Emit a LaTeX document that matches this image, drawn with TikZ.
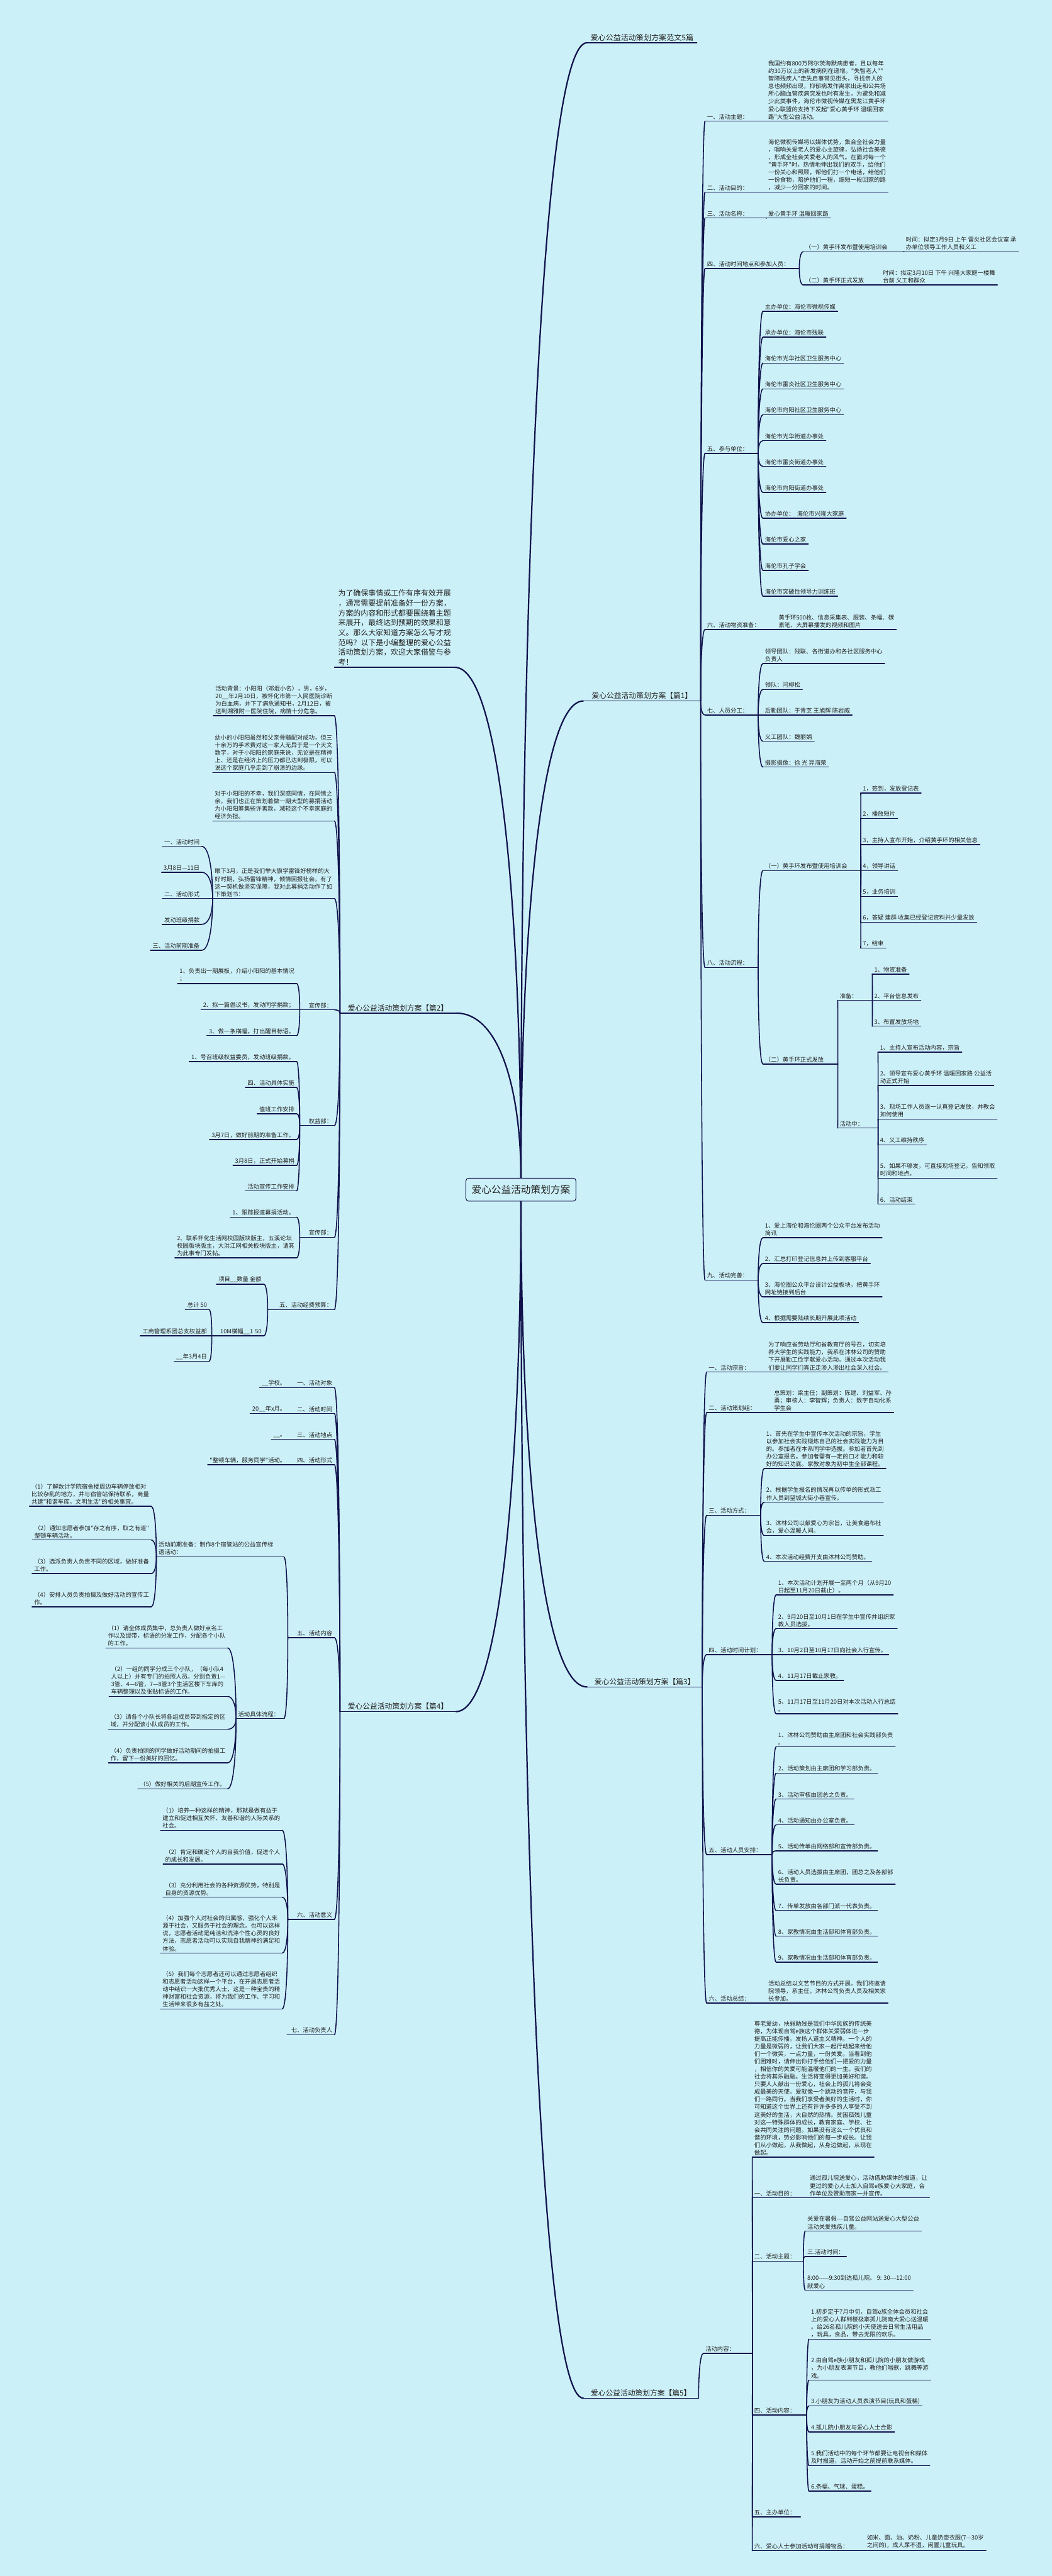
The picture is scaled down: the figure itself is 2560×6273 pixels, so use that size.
\documentclass[tikz,border=0pt]{standalone}
\usepackage{fontspec}
\newfontfamily\cjk{Noto Sans CJK SC}
\usetikzlibrary{calc}
\definecolor{bgc}{RGB}{204,240,248}
\definecolor{lnc}{RGB}{16,18,76}
\definecolor{txc}{RGB}{34,34,34}
\newcommand\lnk[3][cn]{\draw[#1] let \p1=(#2), \p2=(#3) in (\p1) .. controls (\x1,{(\y1+\y2)/2}) and ({0.7*\x1+0.3*\x2},\y2) .. (\p2);}
\newcommand\linkR[2]{\lnk{#1.south east}{#2.south west}}
\newcommand\linkL[2]{\lnk{#1.south west}{#2.south east}}
\tikzset{
  nbase/.style={font=\cjk\fontsize{14.3}{18.5}\selectfont, text=txc, inner xsep=5pt, inner ysep=4pt, align=left},
  uline/.style={draw=lnc, line width=2.2pt, line cap=round},
  ul/.style={append after command={(\tikzlastnode.south west) edge[uline] (\tikzlastnode.south east)}},
  RN/.style={nbase, anchor=south west, ul},
  LN/.style={nbase, anchor=south east, ul},
  tw/.style={text width=#1pt},
  bigf/.style={font=\cjk\fontsize{18}{22}\selectfont, align=center},
  cn/.style={draw=lnc, line width=2.4pt, line cap=round},
  rootc/.style={draw=lnc, line width=3.4pt, line cap=round},
  rootn/.style={draw=lnc, line width=1.6pt, fill=bgc, rounded corners=7pt, font=\cjk\fontsize{24}{28}\selectfont, text=txc, inner xsep=14pt, minimum height=56pt},
}
\begin{document}
\begin{tikzpicture}[x=1pt,y=-1pt]
\useasboundingbox (0,0) rectangle (2560,6273);
\fill[bgc] (0,0) rectangle (2560,6273);

\node[rootn] (root) at (1268,2897) {爱心公益活动策划方案};

% ---------- top & branches ----------
\node[RN,bigf,font=\cjk\fontsize{18.5}{22}\selectfont,tw=257] (t0) at (1429,104) {爱心公益活动策划方案范文5篇};
\node[LN,font=\cjk\fontsize{18.3}{24}\selectfont,inner xsep=9pt] (intro) at (1107,1625) {为了确保事情或工作有序有效开展\\，通常需要提前准备好一份方案，\\方案的内容和形式都要围绕着主题\\来展开，最终达到预期的效果和意\\义。那么大家知道方案怎么写才规\\范吗？以下是小编整理的爱心公益\\活动策划方案，欢迎大家借鉴与参\\考！};
\node[RN,bigf,tw=275] (p1) at (1420,1707) {爱心公益活动策划方案【篇1】};
\node[LN,bigf,tw=272] (p2) at (1110,2467) {爱心公益活动策划方案【篇2】};
\node[RN,bigf,tw=270] (p3) at (1429,4108) {爱心公益活动策划方案【篇3】};
\node[LN,bigf,tw=272] (p4) at (1110,4168) {爱心公益活动策划方案【篇4】};
\node[RN,bigf,tw=270] (p5) at (1420,5840) {爱心公益活动策划方案【篇5】};

% ---------- 篇1 ----------
\node[RN,tw=139] (a1) at (1716,295) {一、活动主题：};
\node[RN] (a1c) at (1865,295) {我国约有800万阿尔茨海默病患者，且以每年\\约30万以上的新发病例在递增。"失智老人""\\智障残疾人"走失启事常见街头，寻找亲人的\\息也频频出现，抑郁病发作离家出走和公共场\\所心脑血管疾病突发也时有发生，为避免和减\\少此类事件，海伦市微视传媒在黑龙江黄手环\\爱心联盟的支持下发起"爱心黄手环 温暖回家\\路"大型公益活动。};
\node[RN,tw=139] (a2) at (1716,468) {二、活动目的：};
\node[RN] (a2c) at (1865,468) {海伦微视传媒将以媒体优势，集合全社会力量\\，唱响关爱老人的爱心主旋律，弘扬社会美德\\，形成全社会关爱老人的风气。在面对每一个\\"黄手环"时，热情地伸出我们的双手，给他们\\一份关心和照顾，帮他们打一个电话，给他们\\一份食物，陪护他们一程，缩短一段回家的路\\，减少一分回家的时间。};
\node[RN,tw=139] (a3) at (1716,531) {三、活动名称：};
\node[RN] (a3c) at (1865,531) {爱心黄手环 温暖回家路};
\node[RN,tw=219] (a4) at (1716,654) {四、活动时间地点和参加人员：};
\node[RN,tw=235] (a41) at (1955,613) {（一）黄手环发布暨使用培训会};
\node[RN] (a41c) at (2200,613) {时间：拟定3月9日 上午 雷炎社区会议室 承\\办单位领导工作人员和义工};
\node[RN,tw=179] (a42) at (1955,694) {（二）黄手环正式发放};
\node[RN] (a42c) at (2144,694) {时间：拟定3月10日 下午 兴隆大家庭一楼舞\\台前 义工和群众};
\node[RN,tw=119] (a5) at (1716,1104) {五、参与单位：};
\node[RN] (a5x1) at (1857,758) {主办单位：海伦市微视传媒};
\node[RN] (a5x2) at (1857,821) {承办单位：海伦市残联};
\node[RN] (a5x3) at (1857,884) {海伦市光华社区卫生服务中心};
\node[RN] (a5x4) at (1857,947) {海伦市雷炎社区卫生服务中心};
\node[RN] (a5x5) at (1857,1010) {海伦市向阳社区卫生服务中心};
\node[RN] (a5x6) at (1857,1073) {海伦市光华街道办事处};
\node[RN] (a5x7) at (1857,1136) {海伦市雷炎街道办事处};
\node[RN] (a5x8) at (1857,1199) {海伦市向阳街道办事处};
\node[RN] (a5x9) at (1857,1262) {协办单位：\ \ 海伦市兴隆大家庭};
\node[RN] (a5x10) at (1857,1325) {海伦市爱心之家};
\node[RN] (a5x11) at (1857,1389) {海伦市孔子学会};
\node[RN] (a5x12) at (1857,1452) {海伦市突破性领导力训练班};
\node[RN,tw=164] (a6) at (1716,1533) {六、活动物资准备：};
\node[RN] (a6c) at (1890,1533) {黄手环500枚、信息采集表、服装、条幅、碳\\素笔、大屏幕播发的视频和图片};
\node[RN,tw=119] (a7) at (1716,1741) {七、人员分工：};
\node[RN] (a7x1) at (1857,1616) {领导团队：残联、各街道办和各社区服务中心\\负责人};
\node[RN] (a7x2) at (1857,1679) {领队：闫柳松};
\node[RN] (a7x3) at (1857,1741) {后勤团队：于青芝 王旭辉 陈岩威};
\node[RN] (a7x4) at (1857,1805) {义工团队：魏丽娟};
\node[RN] (a7x5) at (1857,1868) {摄影摄像：徐 光 羿海荣};
\node[RN,tw=119] (a8) at (1716,2356) {八、活动流程：};
\node[RN,tw=228] (a81) at (1857,2120) {（一）黄手环发布暨使用培训会};
\node[RN] (a81x1) at (2095,1931) {1，签到，发放登记表};
\node[RN] (a81x2) at (2095,1993) {2，播放短片};
\node[RN] (a81x3) at (2095,2057) {3，主持人宣布开始，介绍黄手环的相关信息};
\node[RN] (a81x4) at (2095,2120) {4，领导讲话};
\node[RN] (a81x5) at (2095,2183) {5，业务培训};
\node[RN] (a81x6) at (2095,2246) {6，答疑 建群 收集已经登记资料并少量发放};
\node[RN] (a81x7) at (2095,2309) {7，结束};
\node[RN,tw=172] (a82) at (1857,2591) {（二）黄手环正式发放};
\node[RN,tw=74] (a8p) at (2039,2436) {准备：};
\node[RN] (a8px1) at (2123,2372) {1、物资准备};
\node[RN] (a8px2) at (2123,2436) {2、平台信息发布};
\node[RN] (a8px3) at (2123,2499) {3、布置发放场地};
\node[RN,tw=88] (a8q) at (2039,2747) {活动中：};
\node[RN] (a8qx1) at (2137,2562) {1、主持人宣布活动内容，宗旨};
\node[RN] (a8qx2) at (2137,2643) {2、领导宣布爱心黄手环 温暖回家路 公益活\\动正式开始};
\node[RN] (a8qx3) at (2137,2725) {3、现场工作人员逐一认真登记发放，并教会\\如何使用};
\node[RN] (a8qx4) at (2137,2788) {4、义工维持秩序};
\node[RN] (a8qx5) at (2137,2869) {5、如果不够发，可直接现场登记，告知领取\\时间和地点。};
\node[RN] (a8qx6) at (2137,2932) {6、活动结束};
\node[RN,tw=119] (a9) at (1716,3117) {九、活动完善：};
\node[RN] (a9x1) at (1857,3014) {1、爱上海伦和海伦圈两个公众平台发布活动\\简讯};
\node[RN] (a9x2) at (1857,3077) {2、汇总打印登记信息并上传到客服平台};
\node[RN] (a9x3) at (1857,3158) {3、海伦圈公众平台设计公益板块，把黄手环\\网址链接到后台};
\node[RN] (a9x4) at (1857,3221) {4、根据需要陆续长期开展此项活动};

% ---------- 篇3 ----------
\node[RN,tw=135] (b1) at (1720,3341) {一、活动宗旨：};
\node[RN] (b1c) at (1865,3341) {为了响应省劳动厅和省教育厅的号召，切实培\\养大学生的实践能力，我系在沐林公司的赞助\\下开展勤工俭学献爱心活动。通过本次活动我\\们要让同学们真正走渗入渗出社会深入社会。};
\node[RN,tw=149] (b2) at (1720,3440) {二、活动策划组：};
\node[RN] (b2c) at (1879,3440) {总策划：梁主任；副策划：陈建、刘益军、孙\\勇；审核人：李智辉；负责人：数字自动化系\\学生会};
\node[RN,tw=121] (b3) at (1720,3690) {三、活动方式：};
\node[RN] (b3x1) at (1860,3576) {1、首先在学生中宣传本次活动的宗旨，学生\\以参加社会实践锻炼自己的社会实践能力为目\\的。参加者在本系同学中选拔。参加者首先到\\办公室报名。参加者需有一定的口才能力和较\\好的知识功底。家教对象为初中生全部课程。};
\node[RN] (b3x2) at (1860,3658) {2、根据学生报名的情况再以传单的形式派工\\作人员到望城大街小巷宣传。};
\node[RN] (b3x3) at (1860,3739) {3、沐林公司以献爱心为宗旨，让美食遍布社\\会，爱心温暖人间。};
\node[RN] (b3x4) at (1860,3802) {4、本次活动经费开支由沐林公司赞助。};
\node[RN,tw=149] (b4) at (1720,4029) {四、活动时间计划：};
\node[RN] (b4x1) at (1889,3884) {1、本次活动计划开展一至两个月（从9月20\\日起至11月20日截止）。};
\node[RN] (b4x2) at (1889,3966) {2、9月20日至10月1日在学生中宣传并组织家\\教人员选拔。};
\node[RN] (b4x3) at (1889,4029) {3、10月2日至10月17日向社会入行宣传。};
\node[RN] (b4x4) at (1889,4092) {4、11月17日截止家教。};
\node[RN] (b4x5) at (1889,4173) {5、11月17日至11月20日对本次活动入行总结\\。};
\node[RN,tw=149] (b5) at (1720,4516) {五、活动人员安排：};
\node[RN] (b5x1) at (1889,4254) {1、沐林公司赞助由主席团和社会实践部负责\\。};
\node[RN] (b5x2) at (1889,4318) {2、活动策划由主席团和学习部负责。};
\node[RN] (b5x3) at (1889,4381) {3、活动审核由团总之负责。};
\node[RN] (b5x4) at (1889,4444) {4、活动通知由办公室负责。};
\node[RN] (b5x5) at (1889,4507) {5、活动传单由网络部和宣传部负责。};
\node[RN] (b5x6) at (1889,4588) {6、活动人员选拔由主席团，团总之及各部部\\长负责。};
\node[RN] (b5x7) at (1889,4652) {7、传单发放由各部门派一代表负责。};
\node[RN] (b5x8) at (1889,4715) {8、家教情况由生活部和体育部负责。};
\node[RN] (b5x9) at (1889,4778) {9、家教情况由生活部和体育部负责。};
\node[RN,tw=135] (b6) at (1720,4878) {六、活动总结：};
\node[RN] (b6c) at (1865,4878) {活动总结以文艺节目的方式开展。我们将邀请\\院领导，系主任，沐林公司负责人员及相关家\\长参加。};

% ---------- 篇5 ----------
\node[RN,tw=109] (c0) at (1712,5731) {活动内容：};
\node[RN] (c1) at (1831,5253) {尊老爱幼，扶弱助残是我们中华民族的传统美\\德，为体现自驾e族这个群体关爱弱体进一步\\提高正能传播。发扬人道主义精神。一个人的\\力量是微弱的，让我们大家一起行动起来给他\\们一个微笑，一点力量，一份关爱。当看到他\\们困难时，请伸出你打手给他们一把爱的力量\\，相信你的关爱可能温暖他们的一生。我们的\\社会将其乐融融。生活将变得更加美好和谐。\\只要人人献出一份爱心，社会上的孤儿将会变\\成最美的天使。爱就像一个跳动的音符，与我\\们一路同行。当我们享受者美好的生活时，你\\可知道这个世界上还有许许多多的人享受不到\\这美好的生活，大自然的热情。贫困孤残儿童\\对这一特殊群体的成长，教育家庭、学校、社\\会共同关注的问题。如果没有这么一个优良和\\谐的环境，势必影响他们的每一步成长。让我\\们从小做起，从我做起，从身边做起，从现在\\做起。};
\node[RN,tw=125] (c2) at (1831,5352) {一、活动目的：};
\node[RN] (c2c) at (1966,5352) {通过孤儿院送爱心，活动借助媒体的报道，让\\更过的爱心人士加入自驾e族爱心大家庭，合\\作单位及赞助商家一并宣传。};
\node[RN,tw=114] (c3) at (1831,5506) {二、活动主题：};
\node[RN] (c3x1) at (1960,5433) {关爱在暑假-{}-{}-自驾公益网站送爱心大型公益\\活动关爱残疾儿童。};
\node[RN] (c3x2) at (1960,5495) {三.活动时间：};
\node[RN] (c3x3) at (1960,5577) {8:00-{}-{}-{}-{}-9:30到达孤儿院、 9: 30-{}-{}-12:00\\献爱心};
\node[RN,tw=122] (c4) at (1831,5881) {四、活动内容：};
\node[RN] (c4x1) at (1969,5696) {1.初步定于7月中旬，自驾e族全体会员和社会\\上的爱心人群到楼极寨孤儿院南大爱心送温暖\\。给26名孤儿院的小天使送去日常生活用品\\，玩具，食品，带去无限的欢乐。};
\node[RN] (c4x2) at (1969,5796) {2.由自驾e族小朋友和孤儿院的小朋友做游戏\\，为小朋友表演节目，教他们唱歌，跳舞等游\\戏。};
\node[RN] (c4x3) at (1969,5859) {3.小朋友为活动人员表演节目(玩具和蛋糕)};
\node[RN] (c4x4) at (1969,5922) {4.孤儿院小朋友与爱心人士合影};
\node[RN] (c4x5) at (1969,6004) {5.我们活动中的每个环节都要让电视台和媒体\\及时报道，活动开始之前提前联系媒体。};
\node[RN] (c4x6) at (1969,6066) {6.条幅、气球、蛋糕。};
\node[RN,tw=107] (c5) at (1831,6129) {五、主办单位：};
\node[RN,tw=264] (c6) at (1831,6211) {六、爱心人士参加活动可捐赠物品：};
\node[RN] (c6c) at (2105,6211) {如米、面、油、奶粉、儿童奶壶衣服(7—30岁\\之间的)，成人尿不湿，闲置儿童玩具。};

% ---------- 篇2 ----------
\node[LN] (d1) at (814,1743) {活动背景：小阳阳（邓焜小名），男，6岁，\\20\_\_年2月10日，被怀化市第一人民医院诊断\\为白血病，并下了病危通知书，2月12日，被\\送到湘雅附一医院住院，病情十分危急。};
\node[LN] (d2) at (814,1881) {幼小的小阳阳虽然和父亲骨髓配对成功，但三\\十余万的手术费对这一家人无异于是一个天文\\数字，对于小阳阳的家庭来说，无论是在精神\\上、还是在经济上的压力都已达到极限，可以\\说这个家庭几乎走到了崩溃的边缘。};
\node[LN] (d3) at (814,1999) {对于小阳阳的不幸，我们深感同情，在同情之\\余，我们也正在策划着做一期大型的募捐活动\\为小阳阳筹集些许善款，减轻这个不幸家庭的\\经济负担。};
\node[LN] (d4) at (814,2188) {眼下3月，正是我们举大旗学雷锋好榜样的大\\好时期，弘扬雷锋精神，倾情回报社会。有了\\这一契机做坚实保障，我对此募捐活动作了如\\下策划书：};
\node[LN] (d4x1) at (491,2061) {一、活动时间};
\node[LN] (d4x2) at (491,2124) {3月8日—11日};
\node[LN] (d4x3) at (491,2188) {二、活动形式};
\node[LN] (d4x4) at (491,2251) {发动班级捐款};
\node[LN] (d4x5) at (491,2314) {三、活动前期准备};
\node[LN,tw=74,align=right] (d5) at (814,2459) {宣传部：};
\node[LN] (d5x1) at (722,2395) {1、负责出一期展板，介绍小阳阳的基本情况\\；};
\node[LN] (d5x2) at (722,2459) {2、拟一篇倡议书，发动同学捐款；};
\node[LN] (d5x3) at (722,2522) {3、做一条横幅，打出醒目标语。};
\node[LN,tw=74,align=right] (d6) at (814,2741) {权益部：};
\node[LN] (d6x1) at (722,2585) {1、号召班级权益委员，发动班级捐款。};
\node[LN] (d6x2) at (722,2648) {四、活动具体实施};
\node[LN] (d6x3) at (722,2712) {值班工作安排};
\node[LN] (d6x4) at (722,2775) {3月7日，做好前期的准备工作。};
\node[LN] (d6x5) at (722,2838) {3月8日，正式开始募捐};
\node[LN] (d6x6) at (722,2900) {活动宣传工作安排};
\node[LN,tw=74,align=right] (d7) at (814,3013) {宣传部：};
\node[LN] (d7x1) at (722,2964) {1、跟踪报道募捐活动。};
\node[LN] (d7x2) at (722,3063) {2、联系怀化生活网校园版块版主，五溪论坛\\校园版块版主，大洪江网相关板块版主，请其\\为此事专门发帖。};
\node[LN,tw=152,align=right] (d8) at (814,3189) {五、活动经费预算：};
\node[LN] (d8x1) at (642,3127) {项目\_\_数量 金额};
\node[LN,tw=116,align=right] (d8x2) at (642,3253) {10M横幅\_\_1 50};
\node[LN] (d8y1) at (509,3189) {总计 50};
\node[LN] (d8y2) at (509,3253) {工商管理系团总支权益部};
\node[LN] (d8y3) at (509,3315) {\_\_年3月4日};

% ---------- 篇4 ----------
\node[LN,tw=103,align=right] (e1) at (814,3379) {一、活动对象};
\node[LN] (e1c) at (701,3379) {\_\_学校。};
\node[LN,tw=103,align=right] (e2) at (814,3442) {二、活动时间};
\node[LN] (e2c) at (701,3442) {20\_\_年x月。};
\node[LN,tw=103,align=right] (e3) at (814,3505) {三、活动地点};
\node[LN] (e3c) at (701,3505) {\_\_。};
\node[LN,tw=103,align=right] (e4) at (814,3567) {四、活动形式};
\node[LN] (e4c) at (701,3567) {"整顿车辆，服务同学"活动。};
\node[LN,tw=103,align=right] (e5) at (814,3988) {五、活动内容};
\node[LN,tw=300] (e51) at (691,3791) {活动前期准备：制作8个宿管站的公益宣传标\\语活动：};
\node[LN] (e51x1) at (368,3668) {（1）了解数计学院宿舍楼周边车辆停放相对\\比较杂乱的地方，并与宿管站保持联系，商量\\共建"和谐车库，文明生活"的相关事宜。};
\node[LN] (e51x2) at (368,3750) {（2）通知志愿者参加"存之有序，取之有道"\\整顿车辆活动。};
\node[LN] (e51x3) at (368,3832) {（3）选派负责人负责不同的区域，做好准备\\工作。};
\node[LN] (e51x4) at (368,3913) {（4）安排人员负责拍摄及做好活动的宣传工\\作。};
\node[LN,tw=106] (e52) at (691,4185) {活动具体流程：};
\node[LN] (e52x1) at (554,4013) {（1）请全体成员集中，总负责人做好点名工\\作以及绶带，标语的分发工作，分配各个小队\\的工作。};
\node[LN] (e52x2) at (554,4131) {（2）一组的同学分成三个小队，（每小队4\\人以上）并有专门的拍照人员。分别负责1—\\3管、4—6管，7—8管3个生活区楼下车库的\\车辆整理以及张贴标语的工作。};
\node[LN] (e52x3) at (554,4211) {（3）请各个小队长将各组成员带到指定的区\\域，并分配该小队成员的工作。};
\node[LN] (e52x4) at (554,4293) {（4）负责拍照的同学做好活动期间的拍摄工\\作，留下一份美好的回忆。};
\node[LN] (e52x5) at (554,4356) {（5）做好相关的后期宣传工作。};
\node[LN,tw=103,align=right] (e6) at (814,4674) {六、活动意义};
\node[LN] (e6x1) at (687,4457) {（1）培养一种这样的精神，那就是做有益于\\建立和促进相互关怀、友善和谐的人际关系的\\社会。};
\node[LN] (e6x2) at (687,4539) {（2）肯定和确定个人的自我价值，促进个人\\的成长和发展。};
\node[LN] (e6x3) at (687,4620) {（3）充分利用社会的各种资源优势，特别是\\自身的资源优势。};
\node[LN] (e6x4) at (687,4756) {（4）加强个人对社会的归属感，强化个人来\\源于社会，又服务于社会的理念。也可以这样\\说，志愿者活动是纯洁和洗涤个性心灵的良好\\方法，志愿者活动可以实现自我精神的满足和\\体验。};
\node[LN] (e6x5) at (687,4892) {（5）我们每个志愿者还可以通过志愿者组织\\和志愿者活动这样一个平台，在开展志愿者活\\动中结识一大批优秀人士，这是一种宝贵的精\\神财富和社会资源，将为我们的工作、学习和\\生活带来很多有益之处。};
\node[LN,tw=105,align=right] (e7) at (814,4955) {七、活动负责人};

% ---------- connectors ----------
\lnk[rootc]{root.north}{t0.south west}
\lnk[rootc]{root.north}{intro.south east}
\lnk[rootc]{root.north}{p1.south west}
\lnk[rootc]{root.north}{p2.south east}
\lnk[rootc]{root.south}{p3.south west}
\lnk[rootc]{root.south}{p4.south east}
\lnk[rootc]{root.south}{p5.south west}

\foreach \c in {a1,a2,a3,a4,a5,a6,a7,a8,a9} {\linkR{p1}{\c}}
\linkR{a1}{a1c} \linkR{a2}{a2c} \linkR{a3}{a3c}
\linkR{a4}{a41} \linkR{a4}{a42} \linkR{a41}{a41c} \linkR{a42}{a42c}
\foreach \i in {1,...,12} {\linkR{a5}{a5x\i}}
\linkR{a6}{a6c}
\foreach \i in {1,...,5} {\linkR{a7}{a7x\i}}
\linkR{a8}{a81} \linkR{a8}{a82}
\foreach \i in {1,...,7} {\linkR{a81}{a81x\i}}
\linkR{a82}{a8p} \linkR{a82}{a8q}
\foreach \i in {1,2,3} {\linkR{a8p}{a8px\i}}
\foreach \i in {1,...,6} {\linkR{a8q}{a8qx\i}}
\foreach \i in {1,...,4} {\linkR{a9}{a9x\i}}

\foreach \c in {b1,b2,b3,b4,b5,b6} {\linkR{p3}{\c}}
\linkR{b1}{b1c} \linkR{b2}{b2c} \linkR{b6}{b6c}
\foreach \i in {1,...,4} {\linkR{b3}{b3x\i}}
\foreach \i in {1,...,5} {\linkR{b4}{b4x\i}}
\foreach \i in {1,...,9} {\linkR{b5}{b5x\i}}

\linkR{p5}{c0}
\foreach \c in {c1,c2,c3,c4,c5,c6} {\linkR{c0}{\c}}
\linkR{c2}{c2c} \linkR{c6}{c6c}
\foreach \i in {1,2,3} {\linkR{c3}{c3x\i}}
\foreach \i in {1,...,6} {\linkR{c4}{c4x\i}}

\foreach \c in {d1,d2,d3,d4,d5,d6,d7,d8} {\linkL{p2}{\c}}
\foreach \i in {1,...,5} {\linkL{d4}{d4x\i}}
\foreach \i in {1,2,3} {\linkL{d5}{d5x\i}}
\foreach \i in {1,...,6} {\linkL{d6}{d6x\i}}
\foreach \i in {1,2} {\linkL{d7}{d7x\i}}
\linkL{d8}{d8x1} \linkL{d8}{d8x2}
\foreach \i in {1,2,3} {\linkL{d8x2}{d8y\i}}

\foreach \c in {e1,e2,e3,e4,e5,e6,e7} {\linkL{p4}{\c}}
\linkL{e1}{e1c} \linkL{e2}{e2c} \linkL{e3}{e3c} \linkL{e4}{e4c}
\linkL{e5}{e51} \linkL{e5}{e52}
\foreach \i in {1,...,4} {\linkL{e51}{e51x\i}}
\foreach \i in {1,...,5} {\linkL{e52}{e52x\i}}
\foreach \i in {1,...,5} {\linkL{e6}{e6x\i}}
\end{tikzpicture}
\end{document}
